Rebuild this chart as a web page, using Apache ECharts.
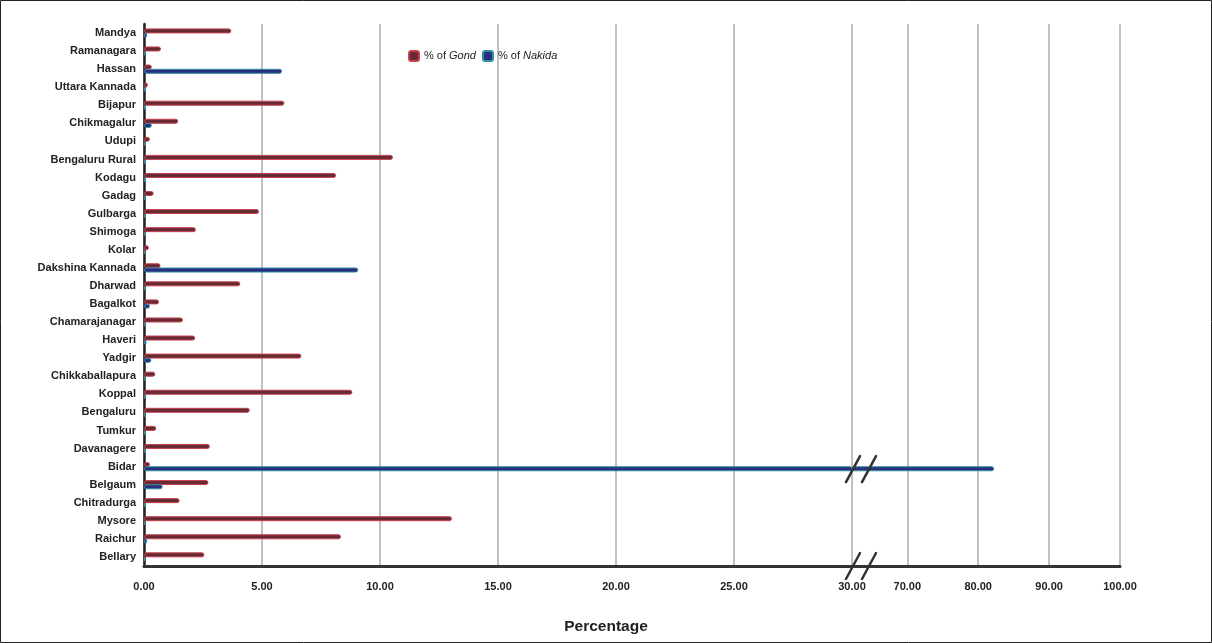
<!DOCTYPE html>
<html>
<head>
<meta charset="utf-8">
<script src="https://cdn.jsdelivr.net/npm/echarts@6/dist/echarts.min.js"></script>
<style>
  html, body { margin: 0; padding: 0; background: #fff; }
  #chart { width: 1212px; height: 643px; }
</style>
</head>
<body>
<div id="chart"></div>
<script>
const districts = ['Mandya','Ramanagara','Hassan','Uttara Kannada','Bijapur','Chikmagalur','Udupi','Bengaluru Rural','Kodagu','Gadag','Gulbarga','Shimoga','Kolar','Dakshina Kannada','Dharwad','Bagalkot','Chamarajanagar','Haveri','Yadgir','Chikkaballapura','Koppal','Bengaluru','Tumkur','Davanagere','Bidar','Belgaum','Chitradurga','Mysore','Raichur','Bellary'];
const gond   = [3.70, 0.72, 0.33, 0.16, 5.95, 1.45, 0.25, 10.55, 8.14, 0.41, 4.87, 2.20, 0.21, 0.70, 4.08, 0.64, 1.65, 2.17, 6.67, 0.48, 8.83, 4.48, 0.52, 2.79, 0.25, 2.73, 1.51, 13.05, 8.35, 2.56];
const nakida = [0.13, 0.05, 5.85, 0.08, 0.08, 0.33, 0.03, 0.08, 0.08, 0.05, 0.05, 0.05, 0.03, 9.08, 0.05, 0.25, 0.05, 0.10, 0.31, 0.05, 0.05, 0.03, 0.05, 0.05, 82.25, 0.79, 0.05, 0.05, 0.13, 0.05];
const seriesNames = ['Gond', 'Nakida'];
const lowTicks = [0, 30];        // left segment of the broken axis
const highTicks = [62.2, 100];   // right segment of the broken axis
const axisTitle = 'Percentage';

const FONT = 'Liberation Sans, Arial, sans-serif';
const gondStyle = { color: '#642b35', borderColor: '#c8404b', borderWidth: 1, borderRadius: 3 };
const nakStyle = { color: '#2b2e7e', borderColor: '#2e8fa0', borderWidth: 1, borderRadius: 3 };

const chart = echarts.init(document.getElementById('chart'), null, { renderer: 'canvas' });

const gridTop = 24, gridHeight = 542;
const xLabel = { fontFamily: FONT, fontSize: 11, fontWeight: 'bold', color: '#222', margin: 15 };
const xSplit = { show: true, lineStyle: { color: '#bcc1c6', width: 2 } };
const xLine = { show: true, lineStyle: { color: '#333', width: 3 } };

function barSeries(idx, name, data, style) {
  return {
    type: 'bar', name: name, data: data,
    xAxisIndex: idx, yAxisIndex: idx,
    barWidth: 5, barGap: '-15%',
    itemStyle: style, clip: true,
    emphasis: { disabled: true }
  };
}

const option = {
  backgroundColor: '#fff',
  animation: false,
  textStyle: { fontFamily: FONT },
  legend: {
    data: seriesNames,
    left: 403, top: 45,
    icon: 'roundRect', itemWidth: 10, itemHeight: 10, itemGap: 6,
    formatter: n => '% of {i|' + n + '}',
    textStyle: {
      fontFamily: FONT, fontSize: 11, color: '#222',
      rich: { i: { fontFamily: FONT, fontSize: 11, fontStyle: 'italic', color: '#222' } }
    }
  },
  grid: [
    { left: 144, top: gridTop, width: 708, height: gridHeight },
    { left: 852, top: gridTop, width: 268, height: gridHeight }
  ],
  xAxis: [
    {
      type: 'value', gridIndex: 0, min: lowTicks[0], max: lowTicks[1], interval: 5,
      axisLine: xLine, axisTick: { show: false }, splitLine: xSplit,
      axisLabel: Object.assign({ formatter: v => v.toFixed(2) }, xLabel)
    },
    {
      type: 'value', gridIndex: 1, min: highTicks[0], max: highTicks[1], splitNumber: 4,
      axisLine: xLine, axisTick: { show: false }, splitLine: xSplit,
      axisLabel: Object.assign({ showMinLabel: false, formatter: v => (Math.abs(v % 10) < 1e-6 ? v.toFixed(2) : '') }, xLabel)
    }
  ],
  yAxis: [
    {
      type: 'category', gridIndex: 0, data: districts, inverse: true,
      axisLine: { show: true, lineStyle: { color: '#222', width: 2.5 } },
      axisTick: { show: false }, splitLine: { show: false },
      axisLabel: { fontFamily: FONT, fontSize: 11, fontWeight: 'bold', color: '#222', margin: 8, interval: 0 }
    },
    {
      type: 'category', gridIndex: 1, data: districts, inverse: true, show: false
    }
  ],
  series: [
    barSeries(0, seriesNames[0], gond, gondStyle),
    barSeries(0, seriesNames[1], nakida, nakStyle),
    barSeries(1, seriesNames[0], gond, gondStyle),
    barSeries(1, seriesNames[1], nakida, nakStyle)
  ],
  graphic: [
    { type: 'rect', silent: true, z: 100, shape: { x: 0.5, y: 0.5, width: 1211, height: 642 },
      style: { fill: 'none', stroke: '#222', lineWidth: 1 } },
    { type: 'text', left: 'center', top: 619, silent: true,
      style: { text: axisTitle, fontFamily: FONT, fontSize: 15.5, fontWeight: 'bold', fill: '#222' } }
  ]
};
chart.setOption(option);

// break marks at the axis break (value 30) on the axis line and on the Bidar bar
const breakIdx = nakida.indexOf(Math.max.apply(null, nakida));
const pBar = chart.convertToPixel({ xAxisIndex: 0, yAxisIndex: 0 }, [lowTicks[1], districts[breakIdx]]);
const pAxis = chart.convertToPixel({ xAxisIndex: 0, yAxisIndex: 0 }, [lowTicks[1], districts[districts.length - 1]]);
const axisY = gridTop + gridHeight;
function slashes(cx, cy) {
  const out = [];
  [0, 16].forEach(dx => {
    out.push({ type: 'line', silent: true, z: 110,
      shape: { x1: cx + dx - 7, y1: cy + 13, x2: cx + dx + 7, y2: cy - 13 },
      style: { stroke: '#333', lineWidth: 2.5, lineCap: 'round' } });
  });
  return out;
}
const extra = slashes(pBar[0] + 1, pBar[1] + 2.5).concat(slashes(pAxis[0] + 1, axisY));
chart.setOption({ graphic: option.graphic.concat(extra) });
</script>
</body>
</html>
